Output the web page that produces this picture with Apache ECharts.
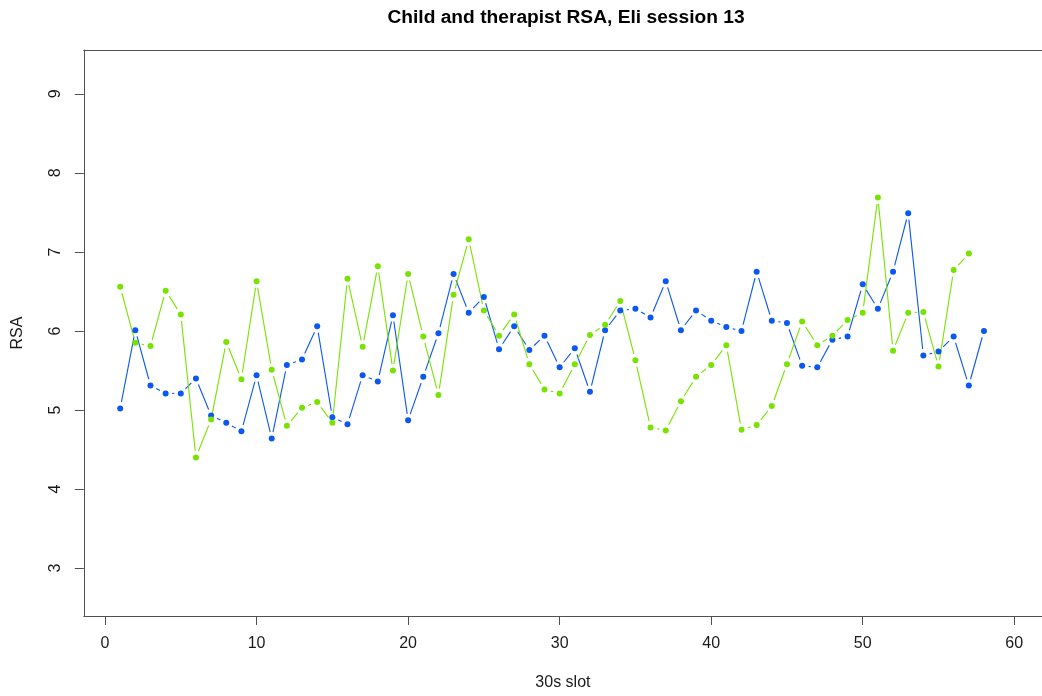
<!DOCTYPE html>
<html>
<head>
<meta charset="utf-8">
<title>Child and therapist RSA, Eli session 13</title>
<script src="https://cdn.jsdelivr.net/npm/echarts@6/dist/echarts.min.js"></script>
<style>
  html, body { margin: 0; padding: 0; background: #ffffff; }
  #chart { width: 1042px; height: 696px; }
</style>
</head>
<body>
<div id="chart"></div>
<script>
// RSA per 30-second slot
const childRSA = [5.02, 6.01, 5.31, 5.21, 5.21, 5.40, 4.93, 4.84, 4.73, 5.44,
                  4.64, 5.57, 5.64, 6.06, 4.91, 4.82, 5.44, 5.36, 6.20, 4.87,
                  5.42, 5.97, 6.72, 6.23, 6.43, 5.77, 6.06, 5.76, 5.94, 5.54,
                  5.78, 5.23, 6.01, 6.26, 6.28, 6.17, 6.63, 6.01, 6.26, 6.13,
                  6.05, 6.00, 6.75, 6.13, 6.10, 5.56, 5.54, 5.89, 5.93, 6.59,
                  6.28, 6.75, 7.49, 5.69, 5.74, 5.93, 5.31, 6.00];
const therapistRSA = [6.56, 5.85, 5.81, 6.51, 6.21, 4.40, 4.88, 5.86, 5.39, 6.63,
                      5.51, 4.80, 5.03, 5.10, 4.84, 6.66, 5.80, 6.82, 5.50, 6.72,
                      5.93, 5.19, 6.46, 7.16, 6.26, 5.94, 6.21, 5.58, 5.26, 5.21,
                      5.58, 5.95, 6.08, 6.38, 5.63, 4.78, 4.74, 5.11, 5.42, 5.57,
                      5.82, 4.75, 4.81, 5.05, 5.58, 6.12, 5.82, 5.94, 6.14, 6.23,
                      7.69, 5.75, 6.23, 6.24, 5.55, 6.77, 6.98];
const xTicks = [0, 10, 20, 30, 40, 50, 60];
const yTicks = [3, 4, 5, 6, 7, 8, 9];

const TITLE = 'Child and therapist RSA, Eli session 13';
const BLUE = '#0a57f2';
const GREEN = '#78e300';
const GAP = 6.5;          // blank space left around each point on the connecting lines
const FONT = '"Liberation Sans", Arial, sans-serif';

function toPoints(values) {
  return values.map((v, i) => [i + 1, v]);
}
function toSegments(values) {
  const segs = [];
  for (let i = 0; i < values.length - 1; i++) {
    segs.push([i + 1, values[i], i + 2, values[i + 1]]);
  }
  return segs;
}

// Connecting segments, trimmed at both ends so the points sit in a small gap
function gappedLine(name, values, color) {
  return {
    name: name,
    type: 'custom',
    data: toSegments(values),
    encode: { x: [0, 2], y: [1, 3] },
    silent: true,
    z: 2,
    renderItem: function (params, api) {
      const a = api.coord([api.value(0), api.value(1)]);
      const b = api.coord([api.value(2), api.value(3)]);
      const dx = b[0] - a[0], dy = b[1] - a[1];
      const len = Math.hypot(dx, dy);
      if (len <= 2 * GAP) return null;
      const ux = dx / len, uy = dy / len;
      return {
        type: 'line',
        shape: {
          x1: a[0] + ux * GAP, y1: a[1] + uy * GAP,
          x2: b[0] - ux * GAP, y2: b[1] - uy * GAP
        },
        style: { stroke: color, lineWidth: 1.1 }
      };
    }
  };
}
function dots(name, values, color) {
  return {
    name: name,
    type: 'scatter',
    data: toPoints(values),
    symbol: 'circle',
    symbolSize: 6,
    itemStyle: { color: color, opacity: 1 },
    z: 3
  };
}

const axisGrey = '#505050';
const labelStyle = { color: '#1a1a1a', fontFamily: FONT, fontSize: 16 };
const X_MIN = -1.4, X_MAX = 61.83;
const Y_MIN = 2.394, Y_MAX = 9.555;

const chart = echarts.init(document.getElementById('chart'), null, { renderer: 'canvas' });
chart.setOption({
  animation: false,
  backgroundColor: '#ffffff',
  graphic: [{
    type: 'text',
    x: 566,
    y: 17.5,
    silent: true,
    style: {
      text: TITLE,
      textAlign: 'center',
      textVerticalAlign: 'middle',
      fill: '#000000',
      font: 'bold 19.2px ' + FONT
    }
  }],
  grid: { left: 83.8, right: 0, top: 50, bottom: 78.7, show: false },
  xAxis: [{
    type: 'value',
    min: X_MIN, max: X_MAX,
    name: '30s slot',
    nameLocation: 'middle',
    nameGap: 59,
    nameTextStyle: labelStyle,
    axisLine: { show: true, onZero: false, lineStyle: { color: axisGrey, width: 1 } },
    splitLine: { show: false },
    axisTick: { show: true, length: 9, customValues: xTicks, lineStyle: { color: axisGrey } },
    axisLabel: Object.assign({ customValues: xTicks, margin: 20 }, labelStyle)
  }, {
    // top edge of the plot box
    type: 'value',
    position: 'top',
    min: X_MIN, max: X_MAX,
    axisLine: { show: true, onZero: false, lineStyle: { color: axisGrey, width: 1 } },
    axisTick: { show: false },
    axisLabel: { show: false },
    splitLine: { show: false }
  }],
  yAxis: {
    type: 'value',
    min: Y_MIN, max: Y_MAX,
    name: 'RSA',
    nameLocation: 'middle',
    nameGap: 58,
    nameTextStyle: labelStyle,
    axisLine: { show: true, onZero: false, lineStyle: { color: axisGrey, width: 1 } },
    splitLine: { show: false },
    axisTick: { show: true, length: 9, customValues: yTicks, lineStyle: { color: axisGrey } },
    axisLabel: Object.assign({ customValues: yTicks, rotate: 90, margin: 20 }, labelStyle)
  },
  series: [
    gappedLine('child line', childRSA, BLUE),
    dots('child', childRSA, BLUE),
    gappedLine('therapist line', therapistRSA, GREEN),
    dots('therapist', therapistRSA, GREEN)
  ]
});
</script>
</body>
</html>
